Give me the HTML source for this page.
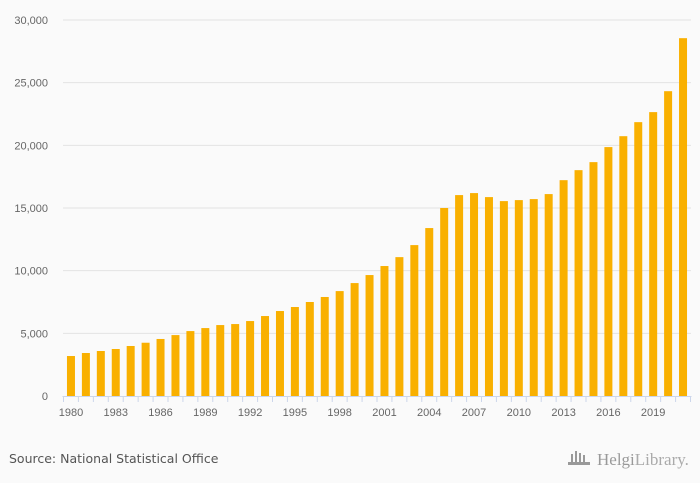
<!DOCTYPE html>
<html><head><meta charset="utf-8"><style>
body{margin:0;background:#fafafa;font-family:"Liberation Sans",sans-serif}
svg{display:block}
</style></head><body>
<svg id="chart" width="700" height="483" xmlns="http://www.w3.org/2000/svg">
<rect width="700" height="483" fill="#fafafa"/>
<g id="grid"></g>
<g id="bars"></g>
<g id="xaxis"></g>
<g id="yaxis"></g>
<text x="9" y="463" font-size="12.5" fill="#555" font-family="DejaVu Sans, sans-serif">Source: National Statistical Office</text>
<g>
<g fill="#999"><rect x="571" y="454" width="2" height="9"/><rect x="575" y="451" width="2" height="12"/><rect x="579" y="453" width="2" height="10"/><rect x="583" y="455" width="2" height="8"/><rect x="568" y="462" width="22" height="3"/></g>
<text x="597" y="465" font-size="17" fill="#999" font-family="Liberation Serif, serif">Helgi<tspan fill="#aaa">Library.</tspan></text>
</g>
</svg>
<script>
const years=[];for(let y=1980;y<=2021;y++)years.push(y);
const values=[3190,3430,3590,3750,3990,4250,4550,4860,5180,5420,5660,5740,5980,6380,6780,7100,7500,7900,8370,9010,9650,10370,11080,12040,13400,15000,16030,16190,15870,15550,15630,15710,16110,17220,18020,18660,19860,20730,21850,22650,24320,28550];
const yTicks=[0,5000,10000,15000,20000,25000,30000];
const yTickLabels=["0","5,000","10,000","15,000","20,000","25,000","30,000"];
const NS="http://www.w3.org/2000/svg";
const plotLeft=63.5,plotRight=690.5,plotTop=20,plotBottom=396,yMax=30000;
const band=(plotRight-plotLeft)/years.length;
function xs(i){return plotLeft+band*i+band/2;}
function ys(v){return plotBottom-(v/yMax)*(plotBottom-plotTop);}
function mk(tag,attrs,parent){const e=document.createElementNS(NS,tag);for(const k in attrs)e.setAttribute(k,attrs[k]);parent.appendChild(e);return e;}
const grid=document.getElementById('grid'),bars=document.getElementById('bars'),xa=document.getElementById('xaxis'),ya=document.getElementById('yaxis');
yTicks.forEach((t,i)=>{
 if(t>0){const l=mk('line',{x1:63,x2:691,y1:ys(t),y2:ys(t),stroke:'#e3e3e3','stroke-width':1},grid);
 
 }
 const tx=mk('text',{x:48,y:ys(t)+4,'text-anchor':'end','font-size':11,fill:'#666'},ya);
 tx.textContent=yTickLabels[i];
 
 
});
values.forEach((v,i)=>{
 const r=mk('rect',{x:xs(i)-4,y:ys(v),width:8,height:plotBottom-ys(v),fill:'#f9b000'},bars);
 
 
});
const ax=mk('line',{x1:plotLeft-1,x2:plotRight+1,y1:plotBottom+0.5,y2:plotBottom+0.5,stroke:'#ccd6eb'},xa);


for(let i=0;i<=years.length;i++){
 const tk=mk('line',{x1:plotLeft+band*i,x2:plotLeft+band*i,y1:plotBottom,y2:plotBottom+6,stroke:'#ccd6eb'},xa);
 
 
}
years.forEach((y,i)=>{
 if(i%3!==0)return;
 const t=mk('text',{x:xs(i),y:416,'text-anchor':'middle','font-size':11,fill:'#666'},xa);
 t.textContent=y;
 
 
});
</script>
</body></html>
